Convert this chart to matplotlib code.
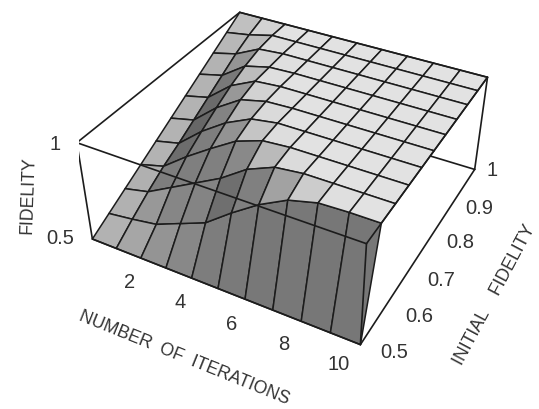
import numpy as np
import matplotlib
matplotlib.use('Agg')
import matplotlib.pyplot as plt

plt.rcParams['font.family'] = ['Liberation Sans', 'DejaVu Sans']

iterations = [0, 1, 2, 3, 4, 5, 6, 7, 8, 9, 10]
initial_fidelity = [0.5, 0.55, 0.6, 0.65, 0.7, 0.75, 0.8, 0.85, 0.9, 0.95, 1.0]
fidelity = [
    [0.50, 0.50, 0.50, 0.50, 0.50, 0.50, 0.50, 0.50, 0.50, 0.50, 0.50],
    [0.55, 0.568, 0.59, 0.645, 0.70, 0.80, 0.89, 0.96, 0.995, 1.00, 1.00],
    [0.60, 0.63, 0.70, 0.77, 0.84, 0.93, 0.985, 1.00, 1.00, 1.00, 1.00],
    [0.65, 0.685, 0.78, 0.865, 0.945, 0.99, 1.00, 1.00, 1.00, 1.00, 1.00],
    [0.70, 0.73, 0.835, 0.92, 0.98, 1.00, 1.00, 1.00, 1.00, 1.00, 1.00],
    [0.75, 0.78, 0.885, 0.965, 0.995, 1.00, 1.00, 1.00, 1.00, 1.00, 1.00],
    [0.80, 0.83, 0.93, 0.99, 1.00, 1.00, 1.00, 1.00, 1.00, 1.00, 1.00],
    [0.85, 0.88, 0.965, 0.995, 1.00, 1.00, 1.00, 1.00, 1.00, 1.00, 1.00],
    [0.90, 0.93, 0.99, 1.00, 1.00, 1.00, 1.00, 1.00, 1.00, 1.00, 1.00],
    [0.95, 0.97, 1.00, 1.00, 1.00, 1.00, 1.00, 1.00, 1.00, 1.00, 1.00],
    [1.00, 1.00, 1.00, 1.00, 1.00, 1.00, 1.00, 1.00, 1.00, 1.00, 1.00],
]
n_tick_labels = ['2', '4', '6', '8', '10']
f_tick_labels = ['0.5', '0.6', '0.7', '0.8', '0.9', '1']
z_tick_labels = ['0.5', '1']

# label anchors in pixels from the top-left corner
n_label_px = [(130, 283), (180, 303), (232, 324), (284, 345), (339, 364)]
f_label_px = [(394, 352), (419, 316), (441, 280), (460, 243), (479, 208), (492, 170)]
z_label_px = [(60, 238), (55, 145)]

W, H = 539, 409
fig = plt.figure(figsize=(W / 100, H / 100), dpi=100)
S = 415.04
ax = fig.add_axes([79.19 / W, 38.72 / H, S / W, S / H], projection='3d', computed_zorder=False)
ax.set_xlim(0, 10, view_margin=0)
ax.set_ylim(0.5, 1, view_margin=0)
ax.set_zlim(0.5, 1, view_margin=0)
aspect = (1.0109, 1, 0.4034)
ax.set_box_aspect(aspect)
ax.view_init(36.2144, -61.46)
ax.set_proj_type('persp', focal_length=0.4318)
ax.set_xticks([])
ax.set_yticks([])
ax.set_zticks([])
ax.set_axis_off()

N, F = np.meshgrid(iterations, initial_fidelity)
Z = np.array(fidelity)

# cell shading from the surface normal in box coordinates
U = N / 10 * aspect[0]
V = (F - 0.5) / 0.5 * aspect[1]
D = (Z - 0.5) / 0.5 * aspect[2]
diag1 = np.dstack([U[1:, 1:] - U[:-1, :-1], V[1:, 1:] - V[:-1, :-1], D[1:, 1:] - D[:-1, :-1]])
diag2 = np.dstack([U[1:, :-1] - U[:-1, 1:], V[1:, :-1] - V[:-1, 1:], D[1:, :-1] - D[:-1, 1:]])
nrm = np.cross(diag1, diag2)
nrm /= np.linalg.norm(nrm, axis=2, keepdims=True)
nrm *= np.sign(nrm[:, :, 2:3])
g = np.clip(0.885 - 1.2 * np.abs(nrm[:, :, 0]) ** 2.5 + 0.43 * nrm[:, :, 1], 0.3, 1)
colors = np.dstack([g, g, g, np.ones_like(g)])

ink = '#1c1c1c'
box_lw = 1.2


def edge(a, b, z):
    ax.plot([a[0], b[0]], [a[1], b[1]], [a[2], b[2]], color=ink, lw=box_lw, zorder=z, solid_capstyle='round')


# box edges behind the surface
edge((0, 1, 0.5), (10, 1, 0.5), 1)
edge((10, 1, 0.5), (10, 1, 1), 1)
edge((10, 0.5, 0.5), (10, 1, 0.5), 1)
edge((0, 1, 1), (0, 0.5, 1), 1)
edge((0, 0.5, 0.5), (0, 0.5, 1), 1)

surf = ax.plot_surface(N, F, Z, facecolors=colors, rstride=1, cstride=1, shade=False,
                       antialiased=True, zorder=2)
surf.set_edgecolor(ink)
surf.set_linewidth(1.1)

# box edges in front of the surface
edge((0, 0.5, 1), (10, 0.5, 1), 3)
edge((0, 0.5, 0.5), (10, 0.5, 0.5), 3)
edge((10, 0.5, 0.5), (10, 0.5, 1), 3)
edge((0, 1, 1), (10, 1, 1), 3)
edge((10, 0.5, 1), (10, 1, 1), 3)

tick_txt = dict(color='#333333', fontsize=14.5, ha='center', va='center')
for labels, pts in ((n_tick_labels, n_label_px), (f_tick_labels, f_label_px), (z_tick_labels, z_label_px)):
    for s, (x, y) in zip(labels, pts):
        fig.text(x / W, 1 - y / H, s, **tick_txt)

title_txt = dict(color='#333333', fontsize=12.7, ha='center', va='center', rotation_mode='anchor')
fig.text(28 / W, 1 - 195 / H, 'FIDELITY', rotation=88, **title_txt)
fig.text(184 / W, 1 - 358 / H, 'NUMBER  OF  ITERATIONS', rotation=-22, **title_txt)
fig.text(495 / W, 1 - 295 / H, 'INITIAL    FIDELITY', rotation=62, **title_txt)

fig.savefig('out.png', dpi=100)
